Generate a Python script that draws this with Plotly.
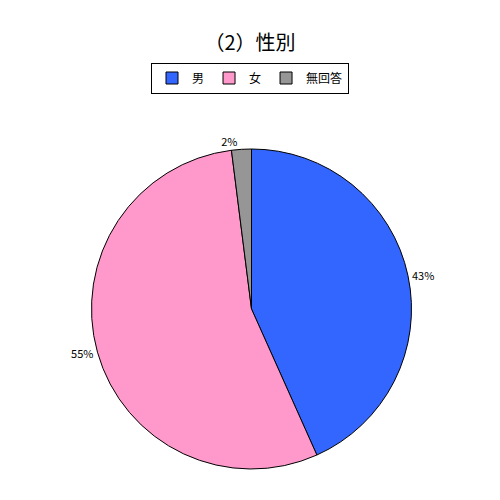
import plotly.graph_objects as go

# (2) 性別 - share of respondents
labels = ['男', '女', '無回答']
values = [43.3, 54.7, 2.0]
colors = ['#3366ff', '#ff99cc', '#969696']

fig = go.Figure()

fig.add_trace(
    go.Pie(
        labels=labels,
        values=values,
        sort=False,
        direction='clockwise',
        rotation=0,
        marker=dict(colors=colors, line=dict(color='black', width=1)),
        textinfo='percent',
        texttemplate='%{percent:.0%}',
        textposition='outside',
        textfont=dict(size=11, color='black'),
        domain=dict(x=[0.166, 0.808], y=[0.078, 0.718]),
        hoverinfo='label+percent',
    )
)

# page body adds ~8px offset, so positions are shifted up/left to compensate
fig.update_layout(
    width=500,
    height=500,
    margin=dict(l=0, r=0, t=0, b=0),
    paper_bgcolor='white',
    font=dict(family='Noto Sans CJK JP', color='black'),
    title=dict(
        text='（2）性別',
        x=0.484,
        y=0.93,
        xanchor='center',
        yanchor='middle',
        font=dict(size=20, color='black'),
    ),
    legend=dict(
        orientation='h',
        x=0.484,
        y=0.86,
        xanchor='center',
        yanchor='middle',
        bordercolor='black',
        borderwidth=1,
        font=dict(size=12),
        itemwidth=30,
        traceorder='normal',
    ),
)

fig.write_html('out.html')
